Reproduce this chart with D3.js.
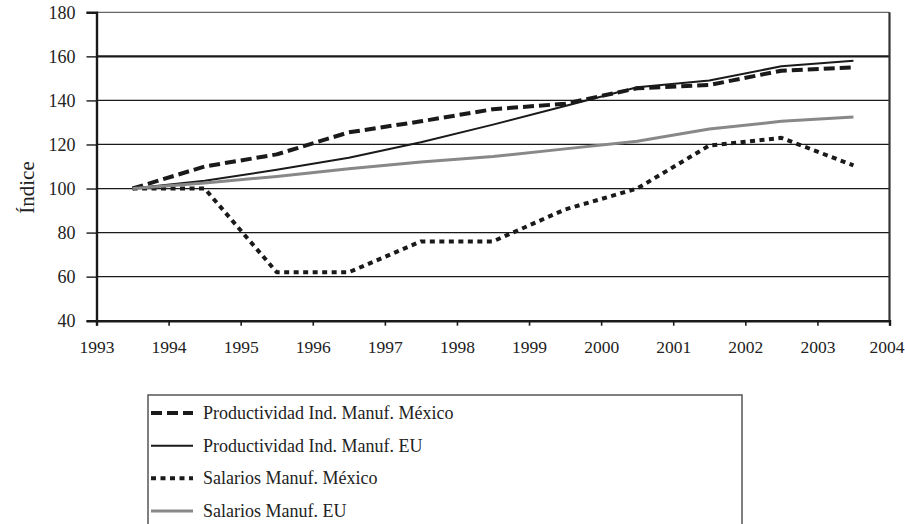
<!DOCTYPE html>
<html>
<head>
<meta charset="utf-8">
<script src="https://cdn.jsdelivr.net/npm/d3@7"></script>
<style>
  html, body { margin: 0; padding: 0; background: #fff; }
  svg { display: block; }
</style>
</head>
<body>
<svg id="chart" width="905" height="524"></svg>
<script>
// Index series, base 1993 = 100
const years = [1993, 1994, 1995, 1996, 1997, 1998, 1999, 2000, 2001, 2002, 2003];
const prodMexico = [100, 110, 115.5, 125.5, 130.5, 136, 138.5, 145.5, 147, 153.5, 155];
const prodEU = [100, 103.5, 108.5, 114, 121, 129, 137.5, 146, 149, 155.5, 158];
const salMexico = [100, 100, 62, 62, 76, 76, 90.5, 100, 119.5, 123, 110.5];
const salEU = [100, 102.5, 105.5, 109, 112, 114.5, 118, 121.5, 127, 130.5, 132.5];

const xTickYears = [1993, 1994, 1995, 1996, 1997, 1998, 1999, 2000, 2001, 2002, 2003, 2004];
const yTicks = [40, 60, 80, 100, 120, 140, 160, 180];

const seriesNames = [
  "Productividad Ind. Manuf. México",
  "Productividad Ind. Manuf. EU",
  "Salarios Manuf. México",
  "Salarios Manuf. EU"
];

const seriesStyles = [
  { color: "#1a1a1a", width: 4, dash: "11,5" },
  { color: "#1a1a1a", width: 2, dash: null },
  { color: "#1a1a1a", width: 4, dash: "5,4.5" },
  { color: "#888888", width: 3, dash: null }
];

const FONT = '"Liberation Serif", "Times New Roman", serif';

const series = [prodMexico, prodEU, salMexico, salEU].map((vals, i) => ({
  name: seriesNames[i],
  style: seriesStyles[i],
  values: vals.map((v, j) => ({ year: years[j], value: v }))
}));

const svg = d3.select("#chart");
const plotLeft = 96.5, plotRight = 889.5, plotTop = 12.3, plotBottom = 320.7;

const x = d3.scaleLinear().domain([1993, 2004]).range([plotLeft, plotRight]);
const y = d3.scaleLinear().domain([40, 180]).range([plotBottom, plotTop]);

// Horizontal gridlines
svg.append("g")
  .selectAll("line")
  .data(yTicks.filter(t => t > 40 && t < 180))
  .join("line")
  .attr("x1", plotLeft).attr("x2", plotRight)
  .attr("y1", d => y(d)).attr("y2", d => y(d))
  .attr("stroke", "#1a1a1a")
  .attr("stroke-width", d => d === 160 ? 2.2 : 1.2);

// Plot frame top / right
svg.append("line")
  .attr("x1", plotLeft).attr("x2", plotRight).attr("y1", y(180)).attr("y2", y(180))
  .attr("stroke", "#666").attr("stroke-width", 1.2);
svg.append("line")
  .attr("x1", plotRight).attr("x2", plotRight).attr("y1", y(180)).attr("y2", y(40))
  .attr("stroke", "#333").attr("stroke-width", 2.2);

// Y axis
const yAxis = svg.append("g")
  .attr("transform", `translate(${plotLeft},0)`)
  .call(d3.axisLeft(y).tickValues(yTicks).tickSize(10).tickPadding(11).tickFormat(d3.format("d")));
yAxis.select(".domain").attr("stroke", "#1a1a1a").attr("stroke-width", 2.4);
yAxis.selectAll(".tick line").attr("stroke", "#1a1a1a").attr("stroke-width", 1.4);
yAxis.selectAll(".tick text")
  .style("font-family", FONT)
  .style("font-size", "18px")
  .attr("fill", "#222");

// X axis
const xAxis = svg.append("g")
  .attr("transform", `translate(0,${plotBottom})`)
  .call(d3.axisBottom(x).tickValues(xTickYears).tickSize(5).tickPadding(15).tickFormat(d3.format("d")));
xAxis.select(".domain").attr("stroke", "#1a1a1a").attr("stroke-width", 2.4);
xAxis.selectAll(".tick line").attr("stroke", "#1a1a1a").attr("stroke-width", 1.6);
xAxis.selectAll(".tick text")
  .style("font-family", FONT)
  .style("font-size", "17.5px")
  .attr("fill", "#222")
  .attr("dx", d => d === 2004 ? -3 : 0);

// Y axis title
svg.append("text")
  .attr("transform", `translate(34,${y(100) - 1}) rotate(-90)`)
  .attr("text-anchor", "middle")
  .style("font-family", FONT)
  .style("font-size", "21px")
  .attr("fill", "#222")
  .text("Índice");

// Series lines, each point centred in its year
const line = d3.line()
  .x(d => x(d.year + 0.5))
  .y(d => y(d.value));

svg.append("g")
  .selectAll("path")
  .data(series)
  .join("path")
  .attr("d", d => line(d.values))
  .attr("fill", "none")
  .attr("stroke", d => d.style.color)
  .attr("stroke-width", d => d.style.width)
  .attr("stroke-dasharray", d => d.style.dash)
  .attr("stroke-linejoin", "round");

// Legend
const legend = svg.append("g");
legend.append("rect")
  .attr("x", 148).attr("y", 395)
  .attr("width", 594).attr("height", 150)
  .attr("fill", "none")
  .attr("stroke", "#555").attr("stroke-width", 1.5);

const rowY = d3.scalePoint().domain(seriesNames).range([413, 511]);

const rows = legend.selectAll("g.row")
  .data(series)
  .join("g")
  .attr("class", "row")
  .attr("transform", d => `translate(0,${rowY(d.name)})`);

rows.append("line")
  .attr("x1", 151).attr("x2", 193)
  .attr("y1", 0).attr("y2", 0)
  .attr("stroke", d => d.style.color)
  .attr("stroke-width", d => d.style.width)
  .attr("stroke-dasharray", d => d.style.dash);

rows.append("text")
  .attr("x", 203)
  .attr("y", 6)
  .style("font-family", FONT)
  .style("font-size", "18px")
  .attr("fill", "#222")
  .text(d => d.name);
</script>
</body>
</html>
